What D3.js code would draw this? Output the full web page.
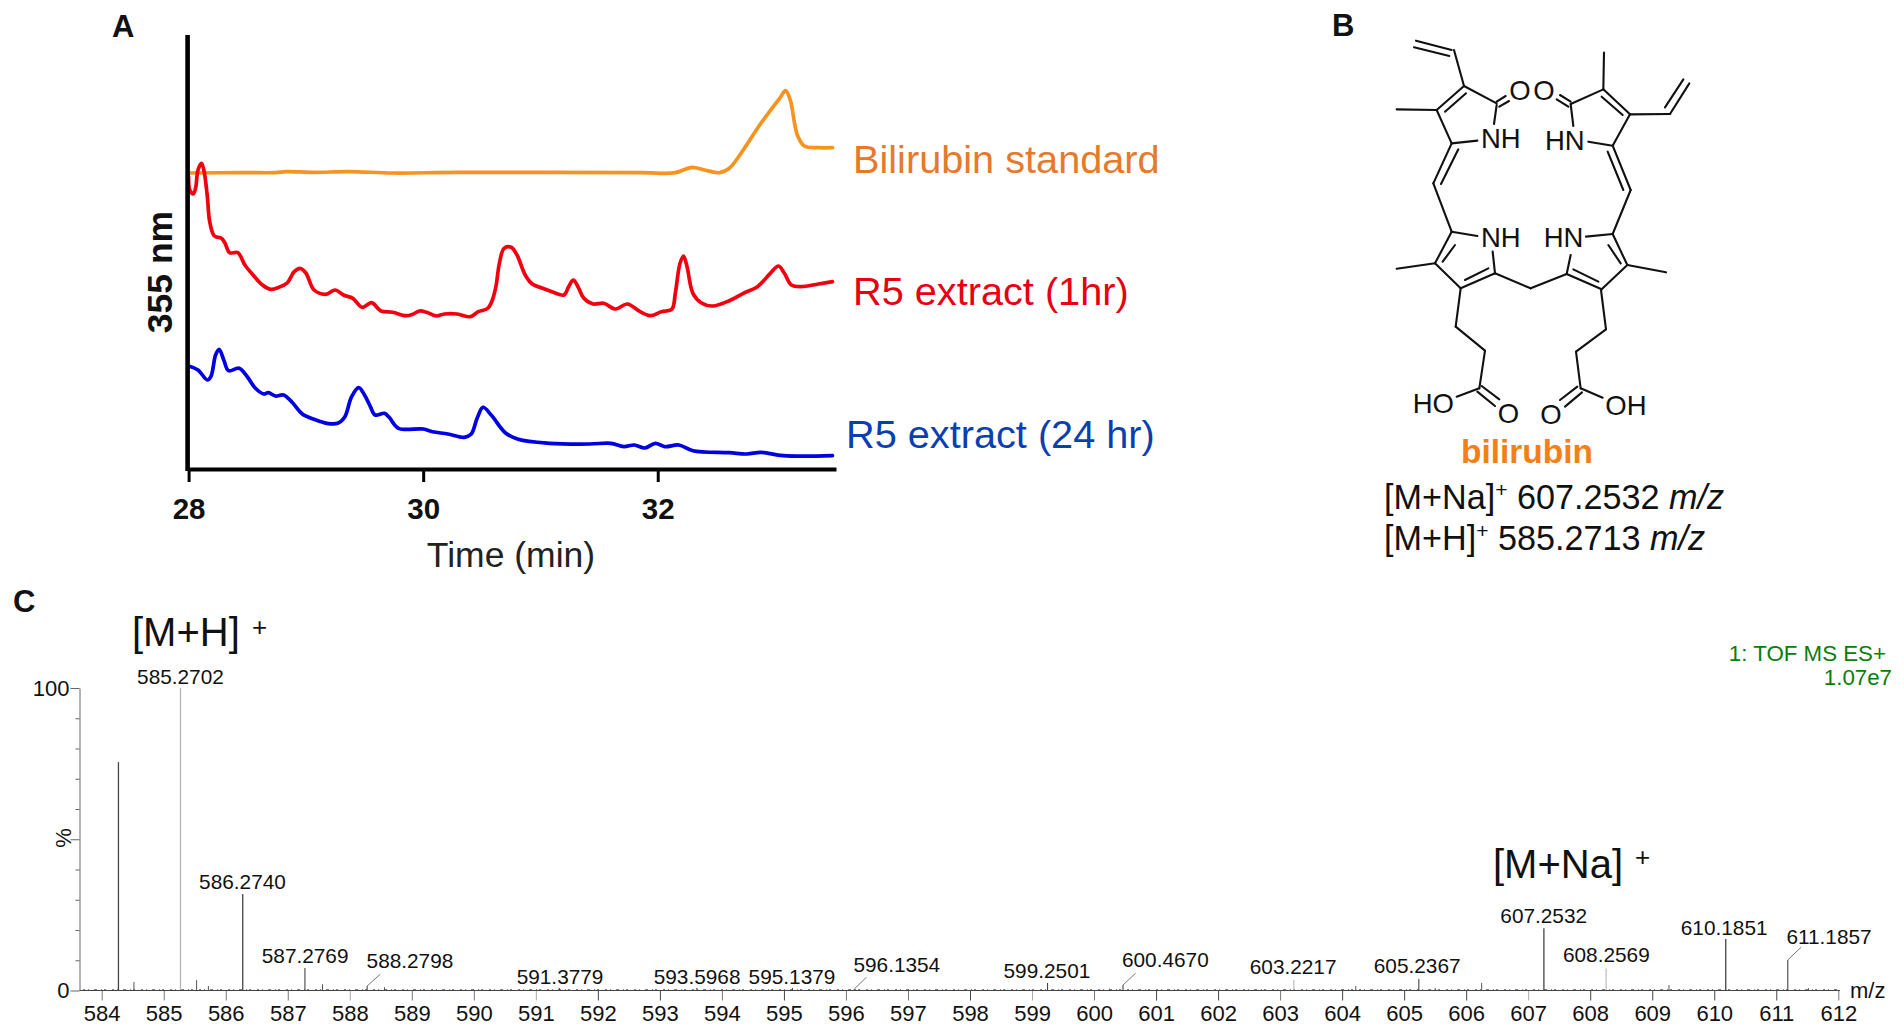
<!DOCTYPE html>
<html><head><meta charset="utf-8">
<script src="https://cdn.jsdelivr.net/npm/d3@7/dist/d3.min.js"></script>
<style>html,body{margin:0;padding:0;background:#fff}svg{display:block}text{font-family:"Liberation Sans",Arial,sans-serif}</style>
</head><body><svg id="c" width="1904" height="1029"></svg>
<script>
// ---------- Panel A data (time in min, absorbance in arbitrary units)
const orangeT=[28,28.46,28.74,28.83,29.07,29.37,29.74,30.3,31.85,32.15,32.29,32.4,32.53,32.61,32.7,32.88,33.04,33.09,33.13,33.19,33.25,33.37,33.49];
const orangeV=[296,296.4,296.4,297.4,296.6,297.4,296,296.6,296.3,296.3,301.7,299,296.3,300.7,314,345.7,370.7,378.3,369,334,323,321.3,321.3];
const redT=[28,28.01,28.04,28.06,28.08,28.11,28.13,28.16,28.18,28.22,28.28,28.31,28.35,28.42,28.48,28.55,28.63,28.7,28.77,28.84,28.9,28.95,29,29.07,29.17,29.25,29.32,29.4,29.48,29.56,29.64,29.74,29.85,29.91,29.97,30.03,30.11,30.18,30.29,30.4,30.47,30.55,30.59,30.62,30.65,30.69,30.75,30.8,30.87,30.93,31.02,31.11,31.2,31.24,31.28,31.32,31.37,31.45,31.54,31.64,31.74,31.85,31.94,32.03,32.12,32.15,32.19,32.22,32.25,32.3,32.37,32.47,32.61,32.73,32.85,32.96,33.03,33.08,33.14,33.22,33.37,33.49];
const redV=[292.3,279,275,281,299,305.7,299,272.3,247.3,233,230.7,226,216.3,216.3,204,194,184,179.7,181.7,186,197.3,200.7,196,179,174.7,179,174,170.7,161.7,166.3,158,156.7,153.3,154.7,158,156.7,153,155,155,152.3,157.3,160.7,169,182.3,205.7,220.7,221.7,214,194,185,180.7,176.7,174,182.3,189,182.3,170.7,165,165.7,160,165,157.3,153.3,157.3,159.7,175.7,205.7,213,202.3,175.7,166.3,163,168.3,175.7,182.3,195.7,203,195.7,184,182.3,185,187.3];
const blueT=[28,28.08,28.16,28.19,28.23,28.26,28.3,28.34,28.43,28.5,28.57,28.64,28.68,28.74,28.81,28.89,28.97,29.07,29.18,29.27,29.33,29.39,29.45,29.5,29.55,29.59,29.67,29.71,29.79,30,30.08,30.21,30.35,30.41,30.46,30.51,30.58,30.7,30.81,31.08,31.42,31.6,31.71,31.8,31.89,31.98,32.06,32.18,32.3,32.61,32.76,32.88,33.07,33.49];
const blueV=[103,99,89,92.3,114,119.7,109,98.3,100.7,92.3,80.7,75,76.3,73,74,65.7,55,49.7,45.7,45.7,51.7,72.3,81.3,74,62.3,54,55.7,51.7,40.7,40,37.3,35,31.7,35,50.7,61.7,54,36.3,29.7,25.7,25,25.7,22.3,24,21,25.7,22.3,24,18.3,16.3,15,16.7,13.3,13.3];
const timeTicks=[28,30,32];
// ---------- Panel C data (m/z, relative intensity %)
const peakMz=[584.27,585.2702,586.2740,587.2769,588.2798,591.3779,593.5968,595.1379,596.1354,599.2501,600.4670,603.2217,605.2367,607.2532,608.2569,610.1851,611.1857];
const peakPct=[75.5,100,31.9,7.4,1.5,0.8,0.8,0.8,0.5,2.5,1.8,3.5,3.8,20.6,7.3,17,10.1];
const peakNames=["","585.2702","586.2740","587.2769","588.2798","591.3779","593.5968","595.1379","596.1354","599.2501","600.4670","603.2217","605.2367","607.2532","608.2569","610.1851","611.1857"];
const labelMz=[0,585.27,586.27,587.28,588.97,591.39,593.6,595.13,596.82,599.24,601.15,603.21,605.21,607.25,608.26,610.16,611.85];
const labelPct=[0,101.3,33.55,9.1,7.4,2.1,2.1,2.1,6.2,4,7.7,5.5,5.7,22.2,9.3,18.3,15.4];
const leaderMz={4:588.49,8:596.33,10:600.67,16:611.4};
const leaderPct={4:5.35,8:4.4,10:5.7,16:14.3};
const faintPeaks=[585.2702,603.2217,608.2569];
const minorMz=[584.52,585.53,585.72,587.56,588.56,604.22,605.5,606.25,609.27,611.52,600.25];
const minorPct=[2.8,3.4,1.5,2.1,1.1,1.5,0.8,2.5,1.8,0.8,0.6];
const mzTicks=d3.range(584,613);
const lightMzTicks=[588,591,599,607];
const darkMzTicks=[592,593,595,598,601,602,604,605,606,608,609,610,611];
const pctTicks=d3.range(0,101,10);

const svg=d3.select("#c");
const INK="#111";
function txt(g,x,y,s,o={}){
  const t=g.append("text").attr("x",x).attr("y",y).text(s)
    .attr("font-size",o.size||20).attr("fill",o.fill||INK)
    .attr("text-anchor",o.anchor||"start").attr("font-weight",o.weight||"normal");
  if(o.rot!==undefined) t.attr("transform",`rotate(${o.rot} ${x} ${y})`);
  return t;
}
// panel letters
[["A",112,37],["B",1332,36],["C",13,612]].forEach(d=>txt(svg,d[1],d[2],d[0],{size:31,weight:"bold"}));

// ---------- Panel A
const gA=svg.append("g");
const xA=d3.scaleLinear().domain([28,33.52]).range([188.6,836]);
const yA=d3.scaleLinear().domain([0,434]).range([469,35]);
const lineA=d3.line().x(d=>xA(d[0])).y(d=>yA(d[1])).curve(d3.curveCatmullRom.alpha(0.5));
[[orangeT,orangeV,"#f7931e"],[redT,redV,"#f2000f"],[blueT,blueV,"#0000e0"]].forEach(([t,v,c])=>{
  gA.append("path").attr("d",lineA(d3.zip(t,v))).attr("fill","none").attr("stroke",c)
    .attr("stroke-width",3.7).attr("stroke-linejoin","round").attr("stroke-linecap","round");
});
const axA=gA.append("g").attr("transform","translate(0,469)")
  .call(d3.axisBottom(xA).tickValues(timeTicks).tickSize(13).tickSizeOuter(0).tickPadding(16).tickFormat(d3.format("d")));
axA.select(".domain").attr("stroke","#000").attr("stroke-width",4.2);
axA.selectAll(".tick line").attr("stroke","#000").attr("stroke-width",3);
axA.selectAll("text").attr("font-size",29.5).attr("font-weight","bold").attr("fill",INK).attr("font-family","Liberation Sans");
gA.append("line").attr("x1",xA(28)-1).attr("x2",xA(28)-1).attr("y1",yA(434)).attr("y2",yA(0)+2)
  .attr("stroke","#000").attr("stroke-width",4.6);
txt(gA,171.5,272,"355 nm",{size:35.5,weight:"bold",anchor:"middle",rot:-90});
txt(gA,511,567,"Time (min)",{size:35.5,anchor:"middle",fill:"#222"});
txt(gA,853,173,"Bilirubin standard",{size:39.7,fill:"#e57a2c"});
txt(gA,853,305,"R5 extract (1hr)",{size:39.7,fill:"#e60012"});
txt(gA,846,448,"R5 extract (24 hr)",{size:39.7,fill:"#0b3fb0"});

// ---------- Panel B: structure (drawing units)
const sx=d3.scaleLinear().domain([0,1200]).range([1340,1740]);
const sy=d3.scaleLinear().domain([0,900]).range([0,300]);
const bonds=[
[228,122,335,150],[222,142,328,168],[342,150,372,258],[372,258,290,330],[378,280,315,335],[170,328,290,330],[290,330,335,430],[335,430,412,422],
[372,258,470,310],[470,305,497,288],[478,320,507,303],[470,315,462,372],
[335,430,280,550],[355,448,303,552],[280,550,335,695],
[335,695,412,708],[335,695,285,790],[345,735,308,785],[170,806,285,790],[285,790,362,865],[362,865,465,820],[375,840,445,805],[465,820,458,755],
[465,820,572,865],[572,865,680,822],[680,822,692,765],[738,710,818,702],[818,702,862,795],[805,735,842,790],[978,817,862,795],[862,795,785,868],[785,868,680,822],[775,845,700,808],
[818,702,872,570],[872,570,818,437],[850,570,803,455],[818,437,745,425],[818,437,870,343],[870,343,790,268],[848,345,785,290],[790,268,792,158],[870,343,990,342],[990,342,1048,250],[975,322,1030,238],
[790,268,692,312],[692,312,700,378],[692,305,660,285],[685,320,650,298],
[362,865,347,980],[347,980,435,1052],[435,1052,418,1165],[418,1165,350,1190],[425,1158,478,1198],[412,1175,465,1218],
[783,870,798,988],[798,988,708,1055],[708,1055,722,1165],[722,1165,788,1193],[712,1160,660,1200],[726,1177,675,1220]];
const atoms=[["O",508,300],["O",580,300],["NH",423,445],["HN",615,450],["NH",423,742],["HN",611,742],["HO",218,1240],["O",473,1270],["O",601,1272],["OH",796,1245]];
const gB=svg.append("g");
gB.selectAll("line").data(bonds).join("line")
  .attr("x1",d=>sx(d[0])).attr("y1",d=>sy(d[1])).attr("x2",d=>sx(d[2])).attr("y2",d=>sy(d[3]))
  .attr("stroke",INK).attr("stroke-width",2.1).attr("stroke-linecap","round");
atoms.forEach(a=>txt(gB,sx(a[1]),sy(a[2]),a[0],{size:27.5}));
txt(gB,1527,463,"bilirubin",{size:33.5,weight:"bold",anchor:"middle",fill:"#f57f17"});
function formula(y,a,b){
  const t=txt(gB,1384,y,a,{size:34.2});
  t.append("tspan").attr("font-size",21).attr("dy",-12).text("+");
  t.append("tspan").attr("dy",12).text(" "+b+" ");
  t.append("tspan").attr("font-style","italic").text("m/z");
}
formula(509,"[M+Na]","607.2532");
formula(550,"[M+H]","585.2713");

// ---------- Panel C
const gC=svg.append("g");
const xC=d3.scaleLinear().domain([584,612]).range([101.7,1838.3]);
const yC=d3.scaleLinear().domain([0,100]).range([990.5,688]);
// baseline noise
gC.append("line").attr("x1",xC(583.7)).attr("x2",xC(612)).attr("y1",yC(0.25)).attr("y2",yC(0.25))
  .attr("stroke","#555").attr("stroke-width",1).attr("stroke-dasharray","2 3 1 5 3 4 1 2 2 6");
const gMinor=gC.append("g");
gMinor.selectAll("line").data(d3.zip(minorMz,minorPct)).join("line")
  .attr("x1",d=>xC(d[0])).attr("x2",d=>xC(d[0])).attr("y1",yC(0)).attr("y2",d=>yC(d[1]))
  .attr("stroke","#555").attr("stroke-width",1);
const gPk=gC.append("g");
gPk.selectAll("line").data(d3.zip(peakMz,peakPct)).join("line")
  .attr("x1",d=>xC(d[0])).attr("x2",d=>xC(d[0])).attr("y1",yC(0)).attr("y2",d=>yC(d[1]))
  .attr("stroke",d=>faintPeaks.includes(d[0])?"#b5b5b5":"#444").attr("stroke-width",d=>d[1]>15?1.3:1.1);
peakNames.forEach((n,i)=>{
  if(!n) return;
  txt(gC,xC(labelMz[i]),yC(labelPct[i]),n,{size:20.8,anchor:"middle"});
  if(leaderMz[i]!==undefined)
    gC.append("line").attr("x1",xC(peakMz[i])).attr("y1",yC(peakPct[i])).attr("x2",xC(leaderMz[i])).attr("y2",yC(leaderPct[i]))
      .attr("stroke","#666").attr("stroke-width",0.9);
});
const axX=gC.append("g").attr("transform",`translate(0,${yC(0)})`)
  .call(d3.axisBottom(xC).tickValues(mzTicks).tickSize(10).tickSizeOuter(0).tickPadding(5).tickFormat(d3.format("d")));
axX.select(".domain").remove();
gC.append("line").attr("x1",79.5).attr("x2",1840).attr("y1",yC(0)).attr("y2",yC(0)).attr("stroke","#444").attr("stroke-width",1.2);
axX.selectAll(".tick line").attr("stroke",d=>lightMzTicks.includes(d)?"#aaa":darkMzTicks.includes(d)?"#444":"#777").attr("stroke-width",1);
axX.selectAll("text").attr("font-size",22).attr("fill",INK).attr("font-family","Liberation Sans");
const axY=gC.append("g").attr("transform","translate(79.5,0)")
  .call(d3.axisLeft(yC).tickValues(pctTicks).tickSizeOuter(0).tickPadding(5).tickFormat(d=>(d===0||d===100)?d:""));
axY.select(".domain").attr("stroke","#666").attr("stroke-width",1);
axY.selectAll(".tick line").attr("stroke","#666").attr("x2",d=>(d%50===0)?-9:-4);
axY.selectAll("text").attr("font-size",22).attr("fill",INK).attr("font-family","Liberation Sans").attr("x",-10);
txt(gC,71,838,"%",{size:22,anchor:"middle",rot:-90});
txt(gC,1850,998,"m/z",{size:22});
txt(gC,1886,661,"1: TOF MS ES+",{size:22.3,anchor:"end",fill:"#0a7d0a"});
txt(gC,1892,685,"1.07e7",{size:22.3,anchor:"end",fill:"#0a7d0a"});
txt(gC,132,646,"[M+H]",{size:40});
txt(gC,252,636,"+",{size:26});
txt(gC,1493,878,"[M+Na]",{size:40});
txt(gC,1635,866,"+",{size:26});
</script></body></html>
